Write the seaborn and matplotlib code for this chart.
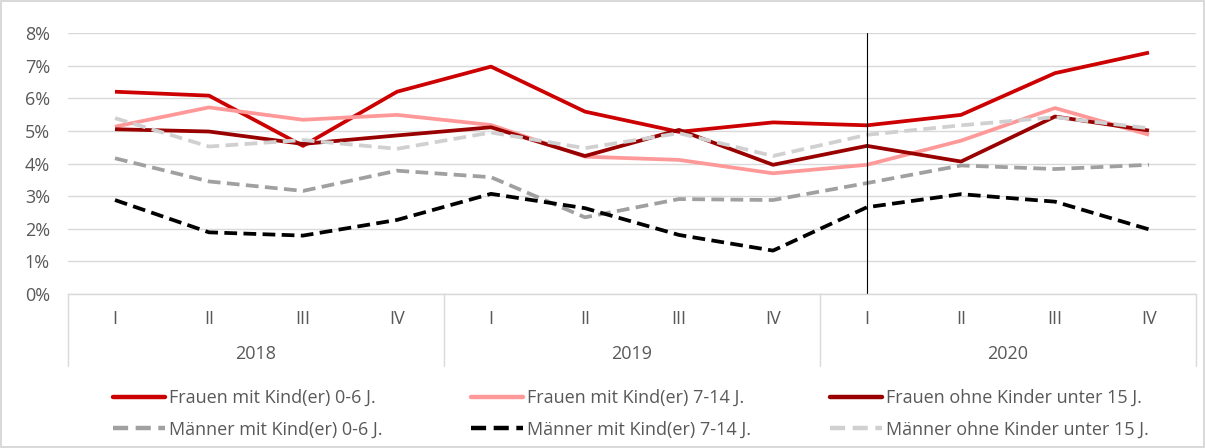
import numpy as np
import pandas as pd
import seaborn as sns
import matplotlib.pyplot as plt
from matplotlib.lines import Line2D

quarters = ["I", "II", "III", "IV"] * 3
years = ["2018", "2019", "2020"]

frauen_0_6 = [6.20, 6.08, 4.54, 6.20, 6.97, 5.59, 4.97, 5.26, 5.17, 5.49, 6.77, 7.40]
frauen_7_14 = [5.13, 5.72, 5.34, 5.49, 5.18, 4.21, 4.11, 3.70, 3.96, 4.70, 5.70, 4.88]
frauen_ohne = [5.05, 4.98, 4.60, 4.86, 5.11, 4.23, 5.03, 3.96, 4.54, 4.06, 5.44, 5.01]
maenner_0_6 = [4.16, 3.45, 3.16, 3.78, 3.58, 2.35, 2.91, 2.88, 3.40, 3.94, 3.83, 3.96]
maenner_7_14 = [2.88, 1.89, 1.79, 2.27, 3.07, 2.63, 1.81, 1.33, 2.66, 3.06, 2.83, 1.98]
maenner_ohne = [5.39, 4.52, 4.72, 4.45, 4.95, 4.47, 4.93, 4.23, 4.88, 5.17, 5.42, 5.08]

series = {
    "Frauen mit Kind(er) 0-6 J.": frauen_0_6,
    "Frauen mit Kind(er) 7-14 J.": frauen_7_14,
    "Frauen ohne Kinder unter 15 J.": frauen_ohne,
    "Männer mit Kind(er) 0-6 J.": maenner_0_6,
    "Männer mit Kind(er) 7-14 J.": maenner_7_14,
    "Männer ohne Kinder unter 15 J.": maenner_ohne,
}
names = list(series.keys())
colors = ["#CC0000", "#FF9999", "#990000", "#A0A0A0", "#000000", "#D0D0D0"]
dash = (3.4, 1.7)
dashes = ["", "", "", dash, dash, dash]

rows = []
for name, vals in series.items():
    for i, v in enumerate(vals):
        rows.append({"pos": i, "wert": v, "gruppe": name})
df = pd.DataFrame(rows)

sns.set_style("white")
plt.rcParams["font.family"] = ["Open Sans", "DejaVu Sans"]
txt = "#595959"
grid = "#D9D9D9"
fs = 13

fig = plt.figure(figsize=(12.05, 4.48), dpi=100)
fig.patch.set_edgecolor(grid)
fig.patch.set_linewidth(1.5)
ax = fig.add_axes([68 / 1205, 1 - 294 / 448, (1196 - 68) / 1205, 261 / 448])

sns.lineplot(data=df, x="pos", y="wert", hue="gruppe", style="gruppe",
             palette=dict(zip(names, colors)), dashes=dict(zip(names, dashes)),
             linewidth=2.7, ax=ax, legend=True)
for ln in ax.get_lines():
    ln.set_solid_capstyle("butt")
    ln.set_dash_capstyle("butt")

ax.set_xlim(-0.5, 11.5)
ax.set_ylim(0, 8)
ax.set_yticks(range(0, 9))
ax.set_yticklabels([f"{t}%" for t in range(0, 9)], color=txt, fontsize=fs)
ax.tick_params(axis="y", length=0, pad=13)
ax.set_xticks([])
ax.set_xlabel("")
ax.set_ylabel("")
ax.grid(axis="y", color=grid, linewidth=1)
ax.set_axisbelow(True)
for s in ax.spines.values():
    s.set_visible(False)

ax.axvline(8, color="black", linewidth=0.8)

# two-level category axis
trans = ax.get_xaxis_transform()
for i, q in enumerate(quarters):
    ax.text(i, -0.095, q, transform=trans, ha="center", va="center",
            color=txt, fontsize=fs)
for j, y in enumerate(years):
    ax.text(4 * j + 1.5, -0.228, y, transform=trans, ha="center", va="center",
            color=txt, fontsize=fs)
for xb in [-0.5, 3.5, 7.5, 11.5]:
    ax.plot([xb, xb], [0, -0.275], transform=trans, color=grid, linewidth=1,
            clip_on=False)
ax.plot([-0.5, 11.5], [0, 0], transform=trans, color=grid, linewidth=1, clip_on=False)

ax.get_legend().remove()
col_x = [113, 471, 830]
for c in range(3):
    hs, ls = [], []
    for name in [names[c], names[c + 3]]:
        i = names.index(name)
        h = Line2D([], [], color=colors[i], linewidth=3.2,
                   linestyle=(0, dash) if dashes[i] else "-")
        hs.append(h)
        ls.append(name)
    fig.legend(hs, ls, loc="upper left", bbox_to_anchor=(col_x[c] / 1205, 1 - 389 / 448),
               frameon=False, handlelength=2.9, handletextpad=0.22, labelspacing=0.75,
               borderaxespad=0, borderpad=0, fontsize=fs, labelcolor=txt)

fig.savefig("out.png", dpi=100)
